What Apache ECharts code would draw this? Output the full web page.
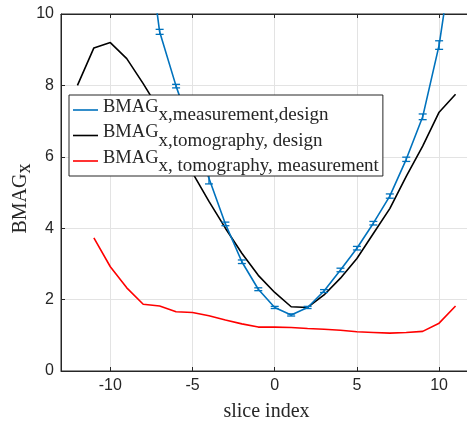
<!DOCTYPE html>
<html>
<head>
<meta charset="utf-8">
<script src="https://cdn.jsdelivr.net/npm/echarts@6/dist/echarts.min.js"></script>
<style>html,body{margin:0;padding:0;background:#fff;}#c{width:467px;height:422px;}</style>
</head>
<body>
<div id="c"></div>
<script>
// Data
const blueX = [-8, -7, -6, -5, -4, -3, -2, -1, 0, 1, 2, 3, 4, 5, 6, 7, 8, 9, 10, 11];
const blueY = [13.0, 9.5, 7.98, 6.65, 5.4, 4.12, 3.06, 2.29, 1.78, 1.57, 1.78, 2.24, 2.83, 3.44, 4.14, 4.9, 5.93, 7.12, 9.13, 12.2];
const blueErr = [null, 0.07, 0.05, 0.1, 0.16, 0.05, 0.05, 0.04, 0.03, 0.03, 0.03, 0.04, 0.05, 0.05, 0.05, 0.06, 0.06, 0.08, 0.12, null];

const blackX = [-12, -11, -10, -9, -8, -7, -6, -5, -4, -3, -2, -1, 0, 1, 2, 3, 4, 5, 6, 7, 8, 9, 10, 11];
const blackY = [8.0, 9.05, 9.2, 8.75, 8.05, 7.3, 6.45, 5.55, 4.75, 4.0, 3.3, 2.68, 2.2, 1.8, 1.78, 2.13, 2.6, 3.15, 3.85, 4.55, 5.45, 6.3, 7.25, 7.75];

const redX = [-11, -10, -9, -8, -7, -6, -5, -4, -3, -2, -1, 0, 1, 2, 3, 4, 5, 6, 7, 8, 9, 10, 11];
const redY = [3.73, 2.92, 2.33, 1.87, 1.82, 1.66, 1.64, 1.55, 1.43, 1.32, 1.23, 1.23, 1.22, 1.19, 1.17, 1.14, 1.10, 1.08, 1.06, 1.08, 1.11, 1.34, 1.82];

const xTicks = [-10, -5, 0, 5, 10];
const seriesNames = ['blue', 'black', 'red'];
const legendSubs = ['x,measurement,design', 'x,tomography, design', 'x, tomography, measurement'];
const yName = ['BMAG', 'x'];
const xName = 'slice index';

const zip = (xs, ys) => xs.map((x, i) => [x, ys[i]]);
const errData = blueX.map((x, i) => [x, blueY[i], blueErr[i]]).filter(d => d[2] != null);

const axisColor = '#262626';
const gridColor = '#e3e3e3';
const serif = '"Liberation Serif", "Times New Roman", serif';
const sans = '"Liberation Sans", Arial, sans-serif';

const chart = echarts.init(document.getElementById('c'), null, {renderer: 'canvas'});
chart.setOption({
  animation: false,
  backgroundColor: '#fff',
  grid: {left: 61, top: 14, width: 411, height: 357, outerBoundsMode: 'none', containLabel: false,
         show: true, borderColor: axisColor, borderWidth: 1, backgroundColor: 'transparent'},
  xAxis: [{
    type: 'value', min: -13, max: 12,
    axisLine: {show: true, onZero: false, lineStyle: {color: axisColor, width: 1}},
    axisTick: {show: true, inside: true, length: 4, customValues: xTicks, lineStyle: {color: axisColor}},
    axisLabel: {customValues: xTicks, color: axisColor, fontSize: 16, fontFamily: sans, margin: 7},
    splitLine: {show: true, customValues: xTicks, lineStyle: {color: gridColor, width: 1}},
    name: xName, nameLocation: 'middle', nameGap: 31,
    nameTextStyle: {fontFamily: serif, fontSize: 20, color: axisColor}
  }, {
    type: 'value', min: -13, max: 12, position: 'top',
    axisLine: {show: true, onZero: false, lineStyle: {color: axisColor}},
    axisTick: {show: true, inside: true, length: 4, customValues: xTicks, lineStyle: {color: axisColor}},
    axisLabel: {show: false, customValues: xTicks},
    splitLine: {show: false}
  }],
  yAxis: {
    type: 'value', min: 0, max: 10, interval: 2,
    axisLine: {show: true, onZero: false, lineStyle: {color: axisColor}},
    axisTick: {show: true, inside: true, length: 4, lineStyle: {color: axisColor}},
    axisLabel: {color: axisColor, fontSize: 16, fontFamily: sans, margin: 7},
    splitLine: {show: true, lineStyle: {color: gridColor, width: 1}},
    name: '{a|' + yName[0] + '}{b|' + yName[1] + '}',
    nameLocation: 'middle', nameRotate: 90, nameGap: 30, nameMoveOverlap: false,
    nameTextStyle: {
      color: axisColor, padding: [0, 12, 0, 0],
      rich: {
        a: {fontFamily: serif, fontSize: 20, lineHeight: 20, color: axisColor},
        b: {fontFamily: serif, fontSize: 20, lineHeight: 20, padding: [7, 0, 0, 0], color: axisColor}
      }
    }
  },
  legend: {
    show: true,
    orient: 'vertical', left: 69, top: 95,
    data: seriesNames,
    icon: 'rect',
    itemWidth: 25, itemHeight: 1.6, itemGap: -4.5,
    padding: [0, 4, 0, 4],
    backgroundColor: '#fff', borderColor: axisColor, borderWidth: 1, borderRadius: 0,
    formatter: function (name) { return '{a|BMAG}{b|' + legendSubs[seriesNames.indexOf(name)] + '}'; },
    textStyle: {
      color: axisColor,
      rich: {
        a: {fontFamily: serif, fontSize: 18.5, lineHeight: 16, padding: [0, 0, 6, 0], color: axisColor},
        b: {fontFamily: serif, fontSize: 19, lineHeight: 16, padding: [11, 0, 0, 0], color: axisColor}
      }
    }
  },
  series: [
    {
      name: 'blue', type: 'line', data: zip(blueX, blueY), showSymbol: false, symbol: 'none',
      clip: true, color: '#0072BD', lineStyle: {color: '#0072BD', width: 1.6}, z: 3
    },
    {
      name: 'black', type: 'line', data: zip(blackX, blackY), showSymbol: false, symbol: 'none',
      clip: true, color: '#000000', lineStyle: {color: '#000000', width: 1.6}, z: 2
    },
    {
      name: 'red', type: 'line', data: zip(redX, redY), showSymbol: false, symbol: 'none',
      clip: true, color: '#FF0000', lineStyle: {color: '#FF0000', width: 1.6}, z: 2
    },
    {
      type: 'custom', name: 'blueErr', data: errData, clip: true, z: 3,
      renderItem: (params, api) => {
        const x = api.value(0), y = api.value(1), e = api.value(2);
        const hi = api.coord([x, y + e]);
        const lo = api.coord([x, y - e]);
        const w = 4;
        const st = {stroke: '#0072BD', lineWidth: 1.3};
        return {type: 'group', children: [
          {type: 'line', shape: {x1: hi[0], y1: hi[1], x2: lo[0], y2: lo[1]}, style: st},
          {type: 'line', shape: {x1: hi[0] - w, y1: hi[1], x2: hi[0] + w, y2: hi[1]}, style: st},
          {type: 'line', shape: {x1: lo[0] - w, y1: lo[1], x2: lo[0] + w, y2: lo[1]}, style: st}
        ]};
      }
    }
  ]
});
</script>
</body>
</html>
